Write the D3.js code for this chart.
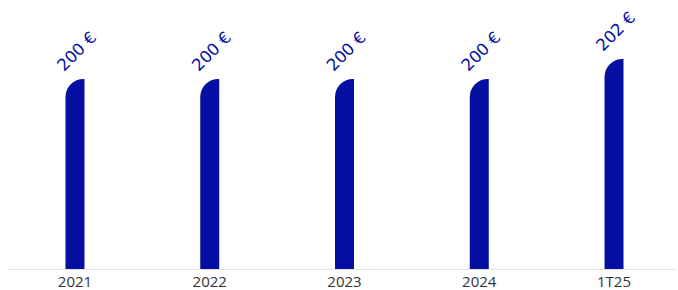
<!DOCTYPE html>
<html>
<head>
<meta charset="utf-8">
<script src="https://cdn.jsdelivr.net/npm/d3@7"></script>
<style>
  body { margin: 0; background: #fff; }
  svg { display: block; }
</style>
</head>
<body>
<div id="chart"></div>
<script>
const categories = ['2021', '2022', '2023', '2024', '1T25'];
const values = [200, 200, 200, 200, 202];
const valueLabels = ['200 €', '200 €', '200 €', '200 €', '202 €'];

const width = 678;
const height = 290;
const baseY = 269;
const barColor = '#0510a2';

const svg = d3.select('#chart')
    .append('svg')
    .attr('width', width)
    .attr('height', height);

const x = d3.scaleBand()
    .domain(categories)
    .range([7.6, 681.4])
    .padding(0);

const y = d3.scaleLinear()
    .domain([181, 203])
    .range([baseY, 49]);

const barW = 19;
const radius = 18;

// top-left rounded bar
const barPath = (cx, top) => {
    const x0 = cx - barW / 2;
    const x1 = cx + barW / 2;
    return `M${x0},${baseY} L${x0},${top + radius} A${radius},${radius} 0 0 1 ${x0 + radius},${top} L${x1},${top} L${x1},${baseY} Z`;
};

const data = categories.map((c, i) => ({ cat: c, value: values[i], label: valueLabels[i] }));

svg.append('line')
    .attr('x1', 8)
    .attr('x2', 677)
    .attr('y1', baseY + 0.5)
    .attr('y2', baseY + 0.5)
    .attr('stroke', '#e2e2e2')
    .attr('stroke-width', 1);

svg.append('g')
    .selectAll('path')
    .data(data)
    .join('path')
    .attr('d', d => barPath(x(d.cat) + x.bandwidth() / 2, y(d.value)))
    .attr('fill', barColor);

svg.append('g')
    .selectAll('text')
    .data(data)
    .join('text')
    .attr('transform', d => `translate(${x(d.cat) + x.bandwidth() / 2 - 11},${y(d.value) - 7}) rotate(-45)`)
    .attr('font-family', '"DejaVu Sans", sans-serif')
    .attr('font-size', 16.5)
    .attr('fill', barColor)
    .text(d => d.label);

svg.append('g')
    .selectAll('text')
    .data(data)
    .join('text')
    .attr('x', d => x(d.cat) + x.bandwidth() / 2)
    .attr('y', 287)
    .attr('text-anchor', 'middle')
    .attr('font-family', '"Open Sans", sans-serif')
    .attr('font-size', 15)
    .attr('fill', '#333')
    .text(d => d.cat);
</script>
</body>
</html>
